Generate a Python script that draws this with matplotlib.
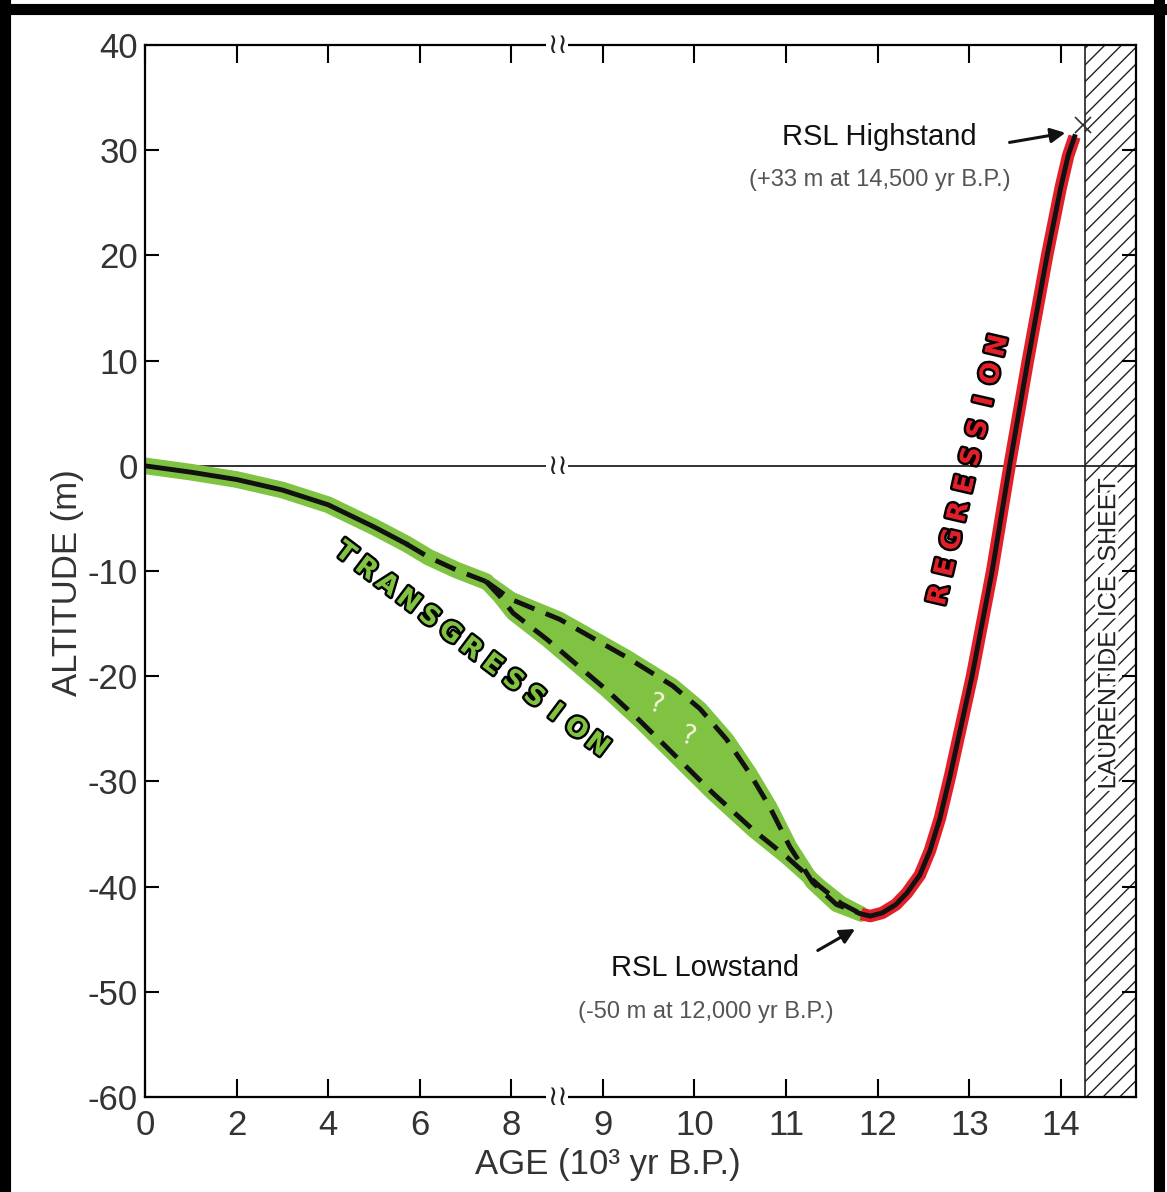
import matplotlib
matplotlib.use("Agg")
import matplotlib.pyplot as plt
import matplotlib.patheffects as pe
import numpy as np

# ---- data (age in 10^3 yr B.P., altitude in m) ----
solid_age = [0.0, 1.0, 2.0, 3.0, 4.0, 5.0, 5.7]
solid_alt = [0.0, -0.6, -1.3, -2.3, -3.7, -5.8, -7.4]

dash_age = [5.7, 6.2, 6.8, 7.45]
dash_alt = [-7.4, -8.7, -9.9, -11.0]

upper_age = [7.45, 8.0, 8.53, 9.26, 9.76, 10.06, 10.35, 10.6, 10.82, 11.04, 11.29, 11.55, 11.82]
upper_alt = [-11.0, -12.7, -14.6, -18.2, -20.9, -23.1, -26.0, -29.2, -32.4, -36.2, -39.6, -41.7, -42.6]

lower_age = [7.45, 7.75, 8.02, 8.39, 9.04, 9.4, 9.76, 10.2, 10.64, 11.01, 11.37, 11.6, 11.82]
lower_alt = [-11.0, -12.4, -14.0, -16.5, -21.3, -24.2, -27.3, -31.1, -34.6, -37.2, -40.0, -41.6, -42.6]

regr_age = [11.82, 11.92, 12.05, 12.2, 12.32, 12.46, 12.57, 12.68, 12.79, 13.03, 13.25,
            13.44, 13.64, 13.85, 14.0, 14.08, 14.15]
regr_alt = [-42.6, -42.8, -42.5, -41.7, -40.6, -38.9, -36.6, -33.5, -29.5, -20.0, -10.0,
            0.0, 10.0, 20.0, 26.5, 29.5, 31.3]

highstand = (14.24, 32.4)
ice_start = 14.26
age_max = 14.82
break_age = 8.5

xticks = [0, 2, 4, 6, 8, 9, 10, 11, 12, 13, 14]
yticks = [40, 30, 20, 10, 0, -10, -20, -30, -40, -50, -60]

GREEN = "#80c342"
RED = "#e3202a"
FONT = ["Liberation Sans", "DejaVu Sans"]
plt.rcParams["axes.unicode_minus"] = False
plt.rcParams["hatch.linewidth"] = 1.0


def fwd(x):
    x = np.asarray(x, dtype=float)
    return np.where(x <= 8, x, 8 + 2 * (x - 8))


def inv(u):
    u = np.asarray(u, dtype=float)
    return np.where(u <= 8, u, 8 + (u - 8) / 2)


fig = plt.figure(figsize=(11.67, 11.92), dpi=100)
ax = fig.add_axes([0.1242, 0.0797, 0.8492, 0.8825])
ax.set_xscale("function", functions=(fwd, inv))
ax.set_xlim(0, age_max)
ax.set_ylim(-60, 40)

# ice sheet block
ax.axvspan(ice_start, age_max, facecolor="white", edgecolor="#222",
           hatch="//", lw=1.2, zorder=1)
ax.axhline(0, color="#222", lw=1.3, zorder=2)

# green transgression band
ax.plot(solid_age + dash_age[1:], solid_alt + dash_alt[1:], color=GREEN,
        lw=12, solid_capstyle="round", solid_joinstyle="round", zorder=3)
ax.fill(upper_age + lower_age[::-1], upper_alt + lower_alt[::-1],
        color=GREEN, lw=0, zorder=3)
for xs, ys in [(upper_age, upper_alt), (lower_age, lower_alt)]:
    ax.plot(xs, ys, color=GREEN, lw=11, solid_capstyle="round",
            solid_joinstyle="round", zorder=3)

# red regression band
ax.plot(regr_age, regr_alt, color=RED, lw=9, solid_capstyle="butt",
        solid_joinstyle="round", zorder=3)

# black curves
ax.plot(solid_age, solid_alt, color="#111", lw=3.5, zorder=4)
for xs, ys in [(dash_age, dash_alt), (upper_age, upper_alt), (lower_age, lower_alt)]:
    ax.plot(xs, ys, color="#111", lw=3.5, dashes=[4.5, 2.5], zorder=4)
ax.plot(regr_age, regr_alt, color="#111", lw=3.5, solid_joinstyle="round", zorder=4)
ax.plot(*highstand, marker="x", ms=12, mew=1.2, color="#333", zorder=5)

# ticks / spines
for s in ax.spines.values():
    s.set_linewidth(1.6)
    s.set_zorder(6)
ax.set_xticks(xticks)
ax.set_xticklabels([str(t) for t in xticks])
ax.set_yticks(yticks)
ax.set_yticklabels([str(t) for t in yticks])
ax.tick_params(axis="x", direction="in", length=13, width=1.5, top=True,
               pad=9, labelsize=25)
ax.tick_params(axis="y", direction="in", length=10, width=1.5, right=True,
               pad=5, labelsize=25)
for lab in ax.get_xticklabels() + ax.get_yticklabels():
    lab.set_family(FONT)
    lab.set_color("#333")

# axis break marks
for yb in (40, 0, -60):
    ax.text(break_age, yb, "\u2240\u2240", ha="center", va="center", fontsize=20,
            color="#222", family="DejaVu Sans", clip_on=False, zorder=7,
            bbox=dict(boxstyle="square,pad=0.02", fc="white", ec="none"))

ax.text(-0.0777, 0.4886, "ALTITUDE (m)", transform=ax.transAxes, rotation=90,
        ha="center", va="center", fontsize=25, family=FONT, color="#333")
ax.text(0.4667, -0.0646, "AGE (10\u00b3 yr B.P.)", transform=ax.transAxes,
        ha="center", va="center", fontsize=25, family=FONT, color="#333")

# ice sheet label
ax.text(0.972, 0.44, "LAURENTIDE  ICE  SHEET", transform=ax.transAxes,
        rotation=90, ha="center", va="center", fontsize=18, family=FONT,
        color="#222", zorder=6,
        path_effects=[pe.withStroke(linewidth=5, foreground="white")])

# annotations
ax.text(12.02, 31.3, "RSL Highstand", ha="center", va="center", fontsize=21,
        family=FONT, color="#111")
ax.text(12.02, 27.2, "(+33 m at 14,500 yr B.P.)", ha="center", va="center",
        fontsize=17, family=FONT, color="#555")
ax.annotate("", xy=(14.08, 31.7), xytext=(13.41, 30.7),
            arrowprops=dict(arrowstyle="-|>", color="#111", lw=2.2,
                            mutation_scale=22))
ax.text(10.12, -47.7, "RSL Lowstand", ha="center", va="center", fontsize=21,
        family=FONT, color="#111")
ax.text(10.12, -51.9, "(-50 m at 12,000 yr B.P.)", ha="center", va="center",
        fontsize=17, family=FONT, color="#555")
ax.annotate("", xy=(11.78, -43.9), xytext=(11.32, -46.2),
            arrowprops=dict(arrowstyle="-|>", color="#111", lw=2.2,
                            mutation_scale=22))


# spaced, outlined labels along the curves
def spaced(word, start, end, rot, color, size):
    n = len(word)
    for i, ch in enumerate(word):
        f = i / (n - 1)
        xa = start[0] + f * (end[0] - start[0])
        ya = start[1] + f * (end[1] - start[1])
        ax.text(xa, ya, ch, transform=ax.transAxes, rotation=rot,
                ha="center", va="center", fontsize=size, fontweight="bold",
                family="DejaVu Sans", color=color, zorder=6,
                path_effects=[pe.withStroke(linewidth=3.5, foreground="black")])


spaced("TRANSGRESSION", (0.2018, 0.517), (0.456, 0.3346), -37, GREEN, 19)
spaced("REGRESSION", (0.802, 0.477), (0.861, 0.714), 77, RED, 19)

for fx, fy in [(0.515, 0.373), (0.548, 0.342)]:
    ax.text(fx, fy, "?", transform=ax.transAxes, rotation=-15, ha="center",
            va="center", fontsize=19, color="#f4f6e0", zorder=6)

# outer frame
for x0, y0, x1, y1 in [(0.004, 0, 0.004, 1), (0, 0.9925, 1, 0.9925),
                       (0.993, 0, 0.993, 1)]:
    fig.add_artist(plt.Line2D([x0, x1], [y0, y1], color="black", lw=8,
                              transform=fig.transFigure))

fig.savefig("out.png", dpi=100)
